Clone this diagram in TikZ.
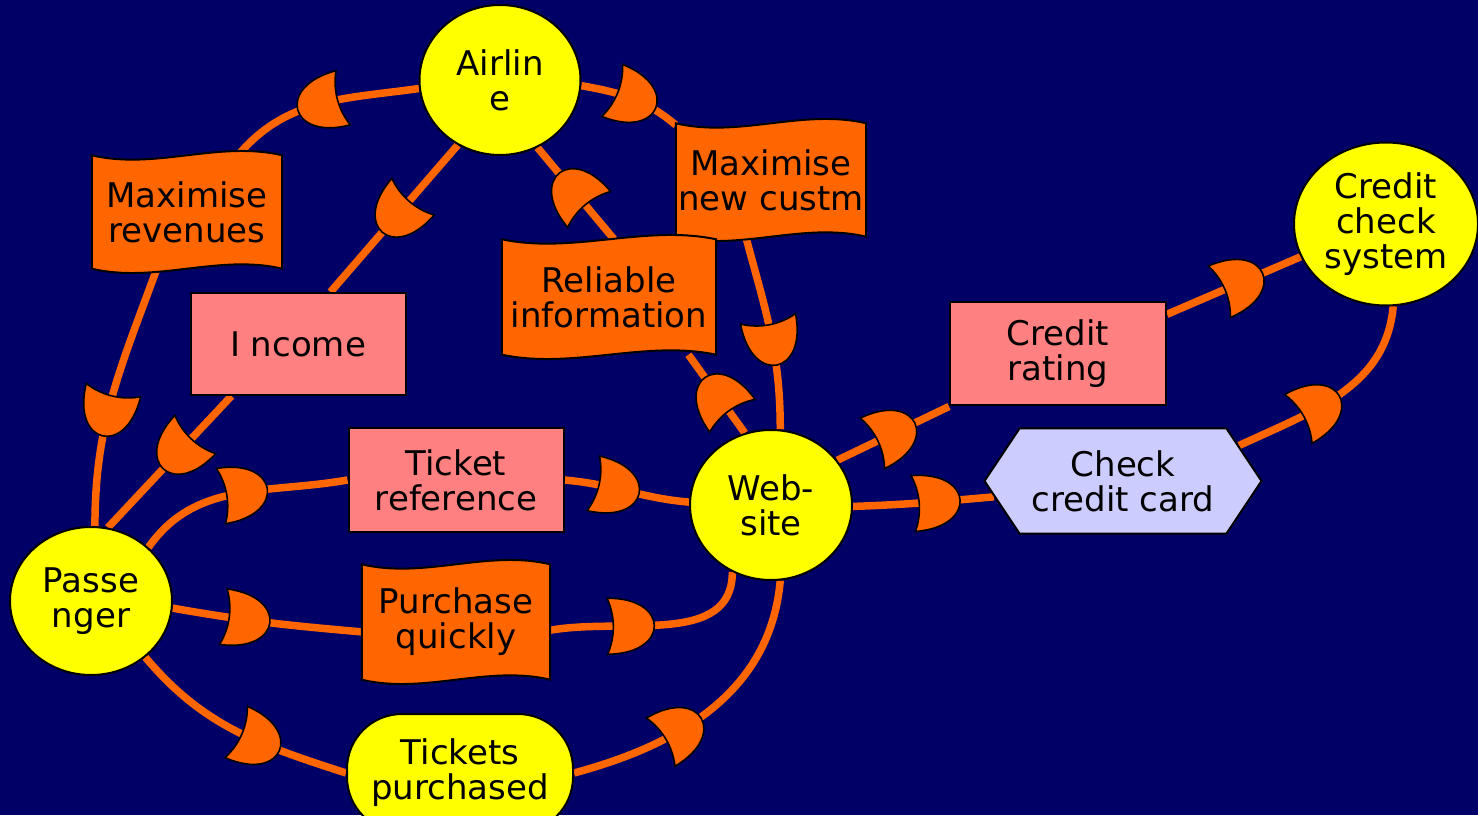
\documentclass[tikz,border=0pt]{standalone}
\usepackage{fontspec}
\setmainfont{DejaVu Sans}
\usetikzlibrary{decorations.markings,shapes.misc,shapes.geometric,shapes.symbols,calc}

\definecolor{cnavy}{RGB}{0,0,102}
\definecolor{cactor}{RGB}{255,255,0}
\definecolor{csoft}{RGB}{255,102,0}
\definecolor{cres}{RGB}{255,128,128}
\definecolor{ctask}{RGB}{204,204,255}

\pgfdeclarelayer{bg}
\pgfdeclarelayer{links}
\pgfdeclarelayer{shapes}
\pgfsetlayers{bg,links,shapes,main}

% dependency marker, drawn along the link direction
\newcommand\dmark{%
  \filldraw[fill=csoft, draw=black, line width=1.6pt]
    (-23pt,28pt) .. controls (10pt,28pt) and (24pt,13pt) .. (24pt,0pt)
    .. controls (24pt,-13pt) and (10pt,-28pt) .. (-23pt,-28pt)
    .. controls (-15pt,-10pt) and (-15pt,10pt) .. (-23pt,28pt) -- cycle;}

% wavy outline behind a softgoal node
\newcommand\softflag[1]{%
  \path[fill=csoft, draw=black, line width=2pt]
    let \p1=(#1.south west), \p2=(#1.north east), \n1={(\x2-\x1)/3} in
    (\x1,\y2) .. controls (\x1+\n1,\y2-15pt) and (\x2-\n1,\y2+15pt) .. (\x2,\y2)
    -- (\x2,\y1) .. controls (\x2-\n1,\y1+15pt) and (\x1+\n1,\y1-15pt) .. (\x1,\y1)
    -- cycle;}

\begin{document}
\begin{tikzpicture}[x=1pt,y=1pt,
  every node/.style={font=\fontsize{34}{35}\selectfont, align=center, inner sep=0pt},
  actor/.style={ellipse, draw=black, line width=2pt, fill=cactor},
  resource/.style={rectangle, draw=black, line width=2pt, fill=cres},
  softgoal/.style={rectangle},
  taskbox/.style={signal, signal to=east and west, signal pointer angle=112.6,
    draw=black, line width=2pt, fill=ctask},
  dep/.style={draw=csoft, line width=7.5pt, postaction={decorate},
    decoration={markings, mark=at position #1 with {\dmark}}},
  dep/.default=0.5]

\useasboundingbox (0,0) rectangle (1478,815);
\begin{pgfonlayer}{bg}
  \fill[cnavy] (0,0) rectangle (1478,815);
\end{pgfonlayer}

% actors
\node[actor, minimum width=161, minimum height=150] (airline) at (500,735) {Airlin\\e};
\node[actor, minimum width=162, minimum height=148] (passenger) at (91,214) {Passe\\nger};
\node[actor, minimum width=162, minimum height=150] (website) at (771,310) {Web-\\site};
\node[actor, minimum width=184, minimum height=163] (ccs) at (1386,591) {Credit\\check\\system};

% goal
\node[draw=black, line width=2pt, fill=cactor, rounded corners=55pt,
  minimum width=226, minimum height=118] (tickets) at (460,42) {Tickets\\purchased};

% softgoals
\node[softgoal, minimum width=190, minimum height=113] (maxrev) at (187,603) {Maximise\\revenues};
\node[softgoal, minimum width=190, minimum height=113] (maxnew) at (771,635) {Maximise\\new custm};
\node[softgoal, minimum width=214, minimum height=115] (relinfo) at (609,518) {Reliable\\information};
\node[softgoal, minimum width=188, minimum height=115] (purchase) at (456,193) {Purchase\\quickly};

% resources
\node[resource, minimum width=215, minimum height=102] (income) at (298,471) {I ncome};
\node[resource, minimum width=215, minimum height=103] (ticketref) at (456,335) {Ticket\\reference};
\node[resource, minimum width=216, minimum height=103] (rating) at (1058,461) {Credit\\rating};

% task
\node[taskbox, minimum width=277, minimum height=105] (checkcc) at (1123,334) {Check\\credit card};

\begin{pgfonlayer}{shapes}
  \softflag{maxrev}
  \softflag{maxnew}
  \softflag{relinfo}
  \softflag{purchase}
\end{pgfonlayer}

\begin{pgfonlayer}{links}
  \draw[dep=0.5]  (airline.186) to[out=188,in=50] (maxrev.48);
  \draw[dep=0.57] (maxrev.242) to[out=250,in=90] (passenger.87);
  \draw[dep=0.47] (airline.237) -- (income.58);
  \draw[dep=0.42] (income.218) -- (passenger.77);
  \draw[dep=0.46] (website.110) -- (relinfo.-36);
  \draw[dep=0.52] (relinfo.85) -- (airline.-61);
  \draw[dep=0.52] (airline.-4) to[out=-10,in=140] (maxnew.150);
  \draw[dep=0.55] (maxnew.-114) to[out=-75,in=90] (website.83);
  \draw[dep=0.52] (passenger.43) to[out=55,in=190] (ticketref.west);
  \draw[dep=0.41] (ticketref.east) to[out=-5,in=175] (website.178);
  \draw[dep=0.39] (passenger.-5) to[out=-10,in=175] (purchase.186);
  \draw[dep=0.38] (purchase.-5) to[out=10,in=-90] (website.240);
  \draw[dep=0.6]  (passenger.-46) to[out=-50,in=162] (tickets.west);
  \draw[dep=0.38] (tickets.east) to[out=15,in=-95] (website.-83);
  \draw[dep=0.5]  (website.34) -- (rating.south west);
  \draw[dep=0.55] (rating.20) -- (ccs.201);
  \draw[dep=0.59] (website.-1) to[out=2,in=185] (checkcc.187);
  \draw[dep=0.4]  (checkcc.17) to[out=25,in=-95] (ccs.-85);
\end{pgfonlayer}
\end{tikzpicture}
\end{document}
